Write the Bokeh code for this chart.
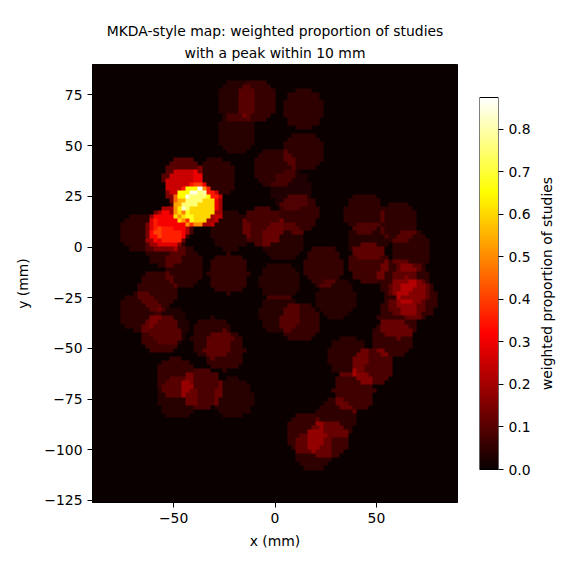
import math
import numpy as np
from bokeh.plotting import figure
from bokeh.models import LinearColorMapper, FixedTicker, Title
from bokeh.core.properties import value
from bokeh.layouts import row
from bokeh.embed import file_html
from bokeh.resources import INLINE

title_line_1 = "MKDA-style map: weighted proportion of studies"
title_line_2 = "with a peak within 10 mm"
x_label = "x (mm)"
y_label = "y (mm)"
bar_label = "weighted proportion of studies"
x_ticks = [-50, 0, 50]
y_ticks = [75, 50, 25, 0, -25, -50, -75, -100, -125]
bar_ticks = [0.0, 0.1, 0.2, 0.3, 0.4, 0.5, 0.6, 0.7, 0.8]
peak_x = [-19, -9, -19, 14, 14, 0, 8, 11.5, 4, -6, 44, 61, 45.5, 46, 67, 24, -23, -45, 2.5, 30,
          12.5, 2.5, -58, -66.5, -56.5, -52.5, -31, -25, -49, -36, -48, -20.5, 36, 48, 39, 30,
          15, 26, 19, 58, 61, 60.5, 67, 70, 65,
          -66.5, -52.6, -54.2, -50, -45.2, -44.3, -35.3, -40.4, -38.4, -29.5, -22, -54]
peak_y = [72, 72, 56, 68, 47, 39, 28, 16.5, 3, 10, 16.5, 12, 3, -8, -2, -9.5, -13, -10, -17, -25.5,
          -37, -33, -21.5, -32, -43, -39, -45, -51, -64.5, -70, -74.5, -74.5, -54, -59, -71, -84.5,
          -92, -95, -100.5, -45, -35, -15, -18, -26, -25,
          7, 9.7, 7.2, 11.3, 34.4, 28.6, 19.5, 19.9, 21.9, 34, 8, 0]
peak_w = [.04, .06, .04, .05, .05, .05, .03, .06, .04, .08, .05, .05, .04, .07, .05, .055, .055, .05, .04, .04,
          .06, .04, .055, .045, .07, .03, .05, .06, .06, .085, .04, .04, .045, .085, .07, .05,
          .06, .07, .05, .06, .06, .06, .05, .06, .05,
          .045, .13, .1, .08, .1, .15, .2, .3, .1, .05, .04, .05]
radius_mm = 10
scale_max = 0.875

xc = np.arange(-89, 90, 2)
yc = np.arange(-125, 90, 2)
gx, gy = np.meshgrid(xc, yc)
grid = np.zeros_like(gx, dtype=float)
for a, b, w in zip(peak_x, peak_y, peak_w):
    grid += w * ((gx - a) ** 2 + (gy - b) ** 2 <= radius_mm ** 2)

def hot(t):
    r = min(1, 0.0416 + t / 0.365 * (1 - 0.0416))
    g = min(1, max(0, (t - 0.365) / (0.746 - 0.365)))
    b = min(1, max(0, (t - 0.746) / (1 - 0.746)))
    return "#%02x%02x%02x" % (round(r * 255), round(g * 255), round(b * 255))

palette = [hot(i / 255) for i in range(256)]
mapper = LinearColorMapper(palette=palette, low=0, high=scale_max)
FONT = "DejaVu Sans"
SIZE = "13.9px"

def style(ax):
    ax.major_label_text_font = FONT
    ax.major_label_text_font_size = SIZE
    ax.major_label_text_color = "black"
    ax.axis_label_text_font = FONT
    ax.axis_label_text_font_size = SIZE
    ax.axis_label_text_font_style = "normal"
    ax.axis_label_text_color = "black"
    ax.major_tick_in = 0
    ax.major_tick_out = 5
    ax.minor_tick_in = 0
    ax.minor_tick_out = 0
    ax.axis_line_color = "black"
    ax.major_tick_line_color = "black"

p = figure(frame_width=365, frame_height=438,
           x_range=(-90, 90), y_range=(-126, 90), output_backend="svg", toolbar_location=None,
           min_border_left=92, min_border_top=24, min_border_right=22, min_border_bottom=85)
p.image(image=[grid], x=-90, y=-126, dw=180, dh=216, color_mapper=mapper)
p.grid.visible = False
p.outline_line_color = "black"
p.xaxis.ticker = FixedTicker(ticks=x_ticks)
p.yaxis.ticker = FixedTicker(ticks=y_ticks)
p.xaxis.major_label_overrides = {t: str(t).replace("-", "\u2212") for t in x_ticks}
p.yaxis.major_label_overrides = {t: str(t).replace("-", "\u2212") for t in y_ticks}
p.xaxis.axis_label = x_label
p.xaxis.axis_label_standoff = 7
p.yaxis.axis_label = y_label
p.yaxis.axis_label_standoff = 10
style(p.xaxis[0]); style(p.yaxis[0])
p.title = None
for line, gap in ((title_line_2, 8), (title_line_1, 0)):
    p.add_layout(Title(text=line, align="center", text_font=FONT, text_font_size=SIZE,
                       text_font_style="normal", text_color="black", offset=0,
                       standoff=gap), "above")

ramp = np.linspace(0, scale_max, 256).reshape(-1, 1)
unit_px = 372 / scale_max
cb = figure(frame_width=19, frame_height=438,
            x_range=(0, 1), y_range=(-33 / unit_px, scale_max + 33 / unit_px),
            output_backend="svg", toolbar_location=None,
            y_axis_location="right", min_border_left=0, min_border_top=64, min_border_bottom=60, min_border_right=38)
cb.image(image=[ramp], x=0, y=0, dw=1, dh=scale_max, color_mapper=mapper)
cb.quad(left=[0], right=[1], bottom=[0], top=[scale_max], fill_color=None, line_color="black", line_width=1)
cb.grid.visible = False
cb.xaxis.visible = False
cb.outline_line_color = None
cb.yaxis.ticker = FixedTicker(ticks=bar_ticks)
cb.yaxis.major_label_overrides = {t: f"{t:.1f}" for t in bar_ticks}
style(cb.yaxis[0])
cb.yaxis.axis_line_color = None

side = figure(frame_width=20, frame_height=438, x_range=(0, 1), y_range=(0, 1),
              output_backend="svg", toolbar_location=None,
              min_border_left=0, min_border_top=64, min_border_bottom=60, min_border_right=0)
side.xaxis.visible = False
side.yaxis.visible = False
side.grid.visible = False
side.outline_line_color = None
side.text(x=[0.5], y=[0.5], text=[bar_label], angle=math.pi / 2, text_align="center",
          text_baseline="middle", text_font=value(FONT), text_font_size=value(SIZE), text_color="black")

open("out.html", "w").write(file_html(row(p, cb, side), INLINE))
